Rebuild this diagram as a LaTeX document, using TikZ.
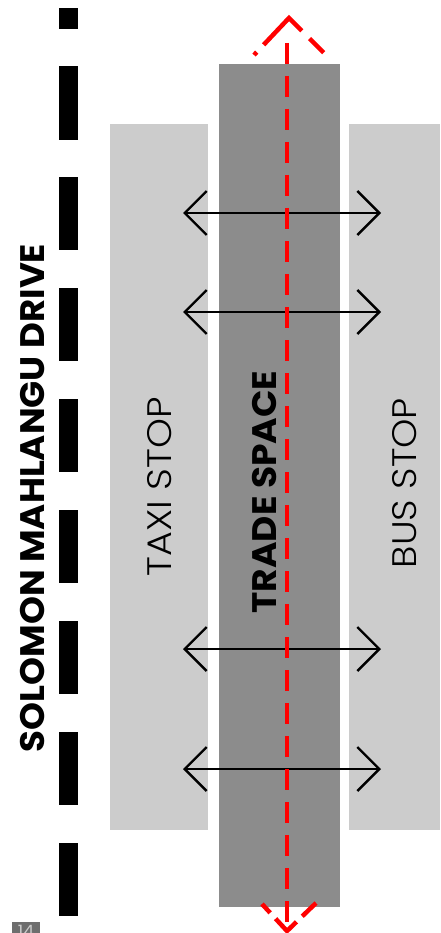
\documentclass[tikz,border=0pt]{standalone}
\usepackage{graphicx}
\usepackage{fontspec}
\setmainfont{Poppins}
\newfontfamily\lightfont{Poppins Light}
\usetikzlibrary{arrows.meta}
\definecolor{lightg}{HTML}{CCCCCC}
\definecolor{darkg}{HTML}{8C8C8C}
\definecolor{redl}{HTML}{FF0000}
\definecolor{pageg}{HTML}{6E6E6E}
\tikzset{
  roaddash/.style={fill=black},
  stopzone/.style={fill=lightg},
  tradezone/.style={fill=darkg},
  redpath/.style={draw=redl, line width=4.5pt},
  flow/.style={draw=black, line width=2.4pt, {Straight Barb[length=22pt,width=44pt,line width=2.4pt]}-{Straight Barb[length=22pt,width=44pt,line width=2.4pt]}},
  zonelabel/.style={rotate=90, inner sep=0pt, font=\lightfont\fontsize{34}{34}\selectfont},
  boldlabel/.style={rotate=90, inner sep=0pt, font=\bfseries\fontsize{34}{34}\selectfont},
}
\begin{document}
\begin{tikzpicture}[x=1pt,y=-1pt]
\useasboundingbox (0,0) rectangle (440,933);
\fill[white] (0,0) rectangle (440,933);
% road centre line
\foreach \a/\b in {8/29,66/140,177/250,288/361,399/472,510/583,621/694,732/805,843/916}
  \fill[roaddash] (59,\a) rectangle (78,\b);
% zones
\fill[stopzone] (110,124) rectangle (208,830);
\fill[stopzone] (349,124) rectangle (440,830);
\fill[tradezone] (219,64) rectangle (340,907);
% labels
\node[boldlabel] (road) at (33,498) {\scalebox{1.045}[1]{SOLOMON MAHLANGU DRIVE}};
\node[zonelabel] (taxi) at (160,487) {\scalebox{1.12}[1]{TAXI STOP}};
\node[boldlabel] (trade) at (265,492) {\scalebox{1.06}[1]{TRADE SPACE}};
\node[zonelabel] (bus) at (405,483) {\scalebox{1.10}[1]{BUS STOP}};
% flow arrows
\foreach \y [count=\i] in {213,312,649,769}{
  \coordinate (l\i) at (183,\y);
  \coordinate (r\i) at (381,\y);
  \draw[flow] (l\i) -- (r\i);
}
% red pedestrian route
\coordinate (top) at (289,18);
\coordinate (bot) at (287,931);
\coordinate (tl) at (254,55);
\coordinate (tr) at (324,53);
\coordinate (bl) at (262,904);
\coordinate (br) at (316,903);
\coordinate (vs) at (287,43);
\coordinate (ve) at (287,927);
\draw[redpath, dash pattern=on 21pt off 12pt] (vs) -- (ve);
\draw[redpath, dash pattern=on 4pt off 10pt on 55pt off 11pt on 20pt] (tl) -- (top) -- (tr);
\draw[redpath, dash pattern=on 12pt off 8pt on 30pt off 8pt on 30pt] (bl) -- (bot) -- (br);
% page number
\fill[pageg] (12,922) rectangle (40,940);
\node[anchor=north, inner sep=0pt, text=lightg, font=\fontsize{17}{17}\selectfont] (page) at (26,925) {14};
\end{tikzpicture}
\end{document}
